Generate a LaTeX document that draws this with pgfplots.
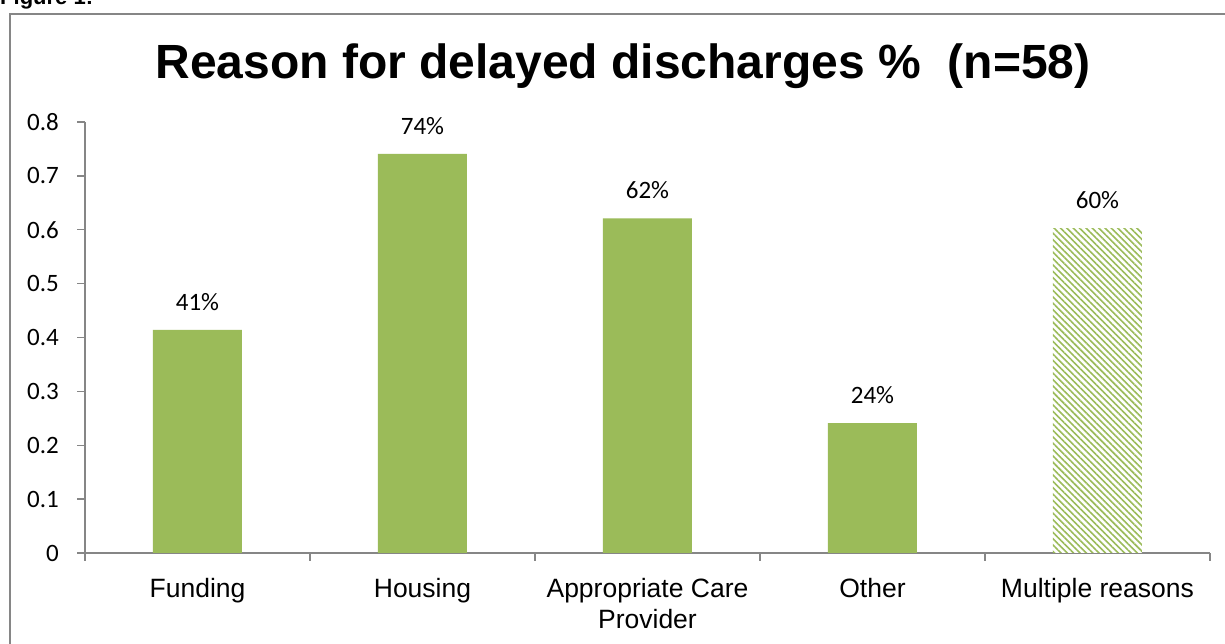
\documentclass[border=0pt]{standalone}
\usepackage{fontspec}
\setmainfont{Liberation Sans}
\newfontfamily\calibri{Carlito}
\usepackage{pgfplots}
\pgfplotsset{compat=1.18}
\usetikzlibrary{patterns.meta}
\definecolor{bargreen}{HTML}{9BBB59}
\definecolor{axgray}{HTML}{868686}
\begin{document}
\begin{tikzpicture}
\path[use as bounding box, clip] (0pt,0pt) rectangle (1225pt,644pt);
\fill[white] (0pt,0pt) rectangle (1225pt,644pt);
\draw[axgray, line width=2pt] (10pt,-30pt) rectangle (1270pt,629.5pt);
\node[anchor=base west, font=\bfseries\fontsize{22}{26}\selectfont, inner sep=0] at (0pt,639pt) {Figure 1:};
\node[anchor=base, font=\bfseries\fontsize{48}{56}\selectfont, inner sep=0] at (623pt,565pt) {Reason for delayed discharges \%\ \ (n=58)};
\begin{axis}[
  at={(85pt,91pt)}, anchor=south west,
  scale only axis, width=1125pt, height=431pt,
  xmin=-0.5, xmax=4.5, ymin=0, ymax=0.8,
  axis lines*=left,
  axis line style={axgray, line width=1.3pt},
  ytick={0,0.1,0.2,0.3,0.4,0.5,0.6,0.7,0.8},
  yticklabels={0,0.1,0.2,0.3,0.4,0.5,0.6,0.7,0.8},
  xtick={0,1,2,3,4},
  xticklabels={Funding,Housing,{Appropriate Care\\Provider},Other,Multiple reasons},
  minor xtick={-0.5,0.5,1.5,2.5,3.5,4.5},
  tick align=outside,
  major tick length=8pt,
  minor tick length=8pt,
  every tick/.style={axgray, line width=1.3pt},
  x tick style={draw=none},
  minor x tick style={draw=axgray, line width=1.3pt},
  xticklabel style={font=\fontsize{26.5}{31}\selectfont, align=center, anchor=north, inner sep=0pt, yshift=-17pt},
  yticklabel style={font=\calibri\fontsize{25}{30}\selectfont, anchor=east, inner sep=0pt, xshift=-18pt},
  clip=false,
  point meta=explicit symbolic,
  nodes near coords,
  every node near coord/.style={font=\calibri\fontsize{25}{30}\selectfont, anchor=center, inner sep=0pt, yshift=28pt, black},
]
\addplot[ybar, bar width=89pt, bar shift=0pt, fill=bargreen, draw=none] coordinates {
  (0,0.414) [41\%]
  (1,0.741) [74\%]
  (2,0.621) [62\%]
  (3,0.241) [24\%]
};
\addplot[ybar, bar width=89pt, bar shift=0pt, draw=none, fill=white,
  postaction={pattern={Lines[angle=-45, distance=4.5pt, line width=1.6pt]}, pattern color=bargreen}] coordinates {
  (4,0.603) [60\%]
};
\end{axis}
\end{tikzpicture}
\end{document}
